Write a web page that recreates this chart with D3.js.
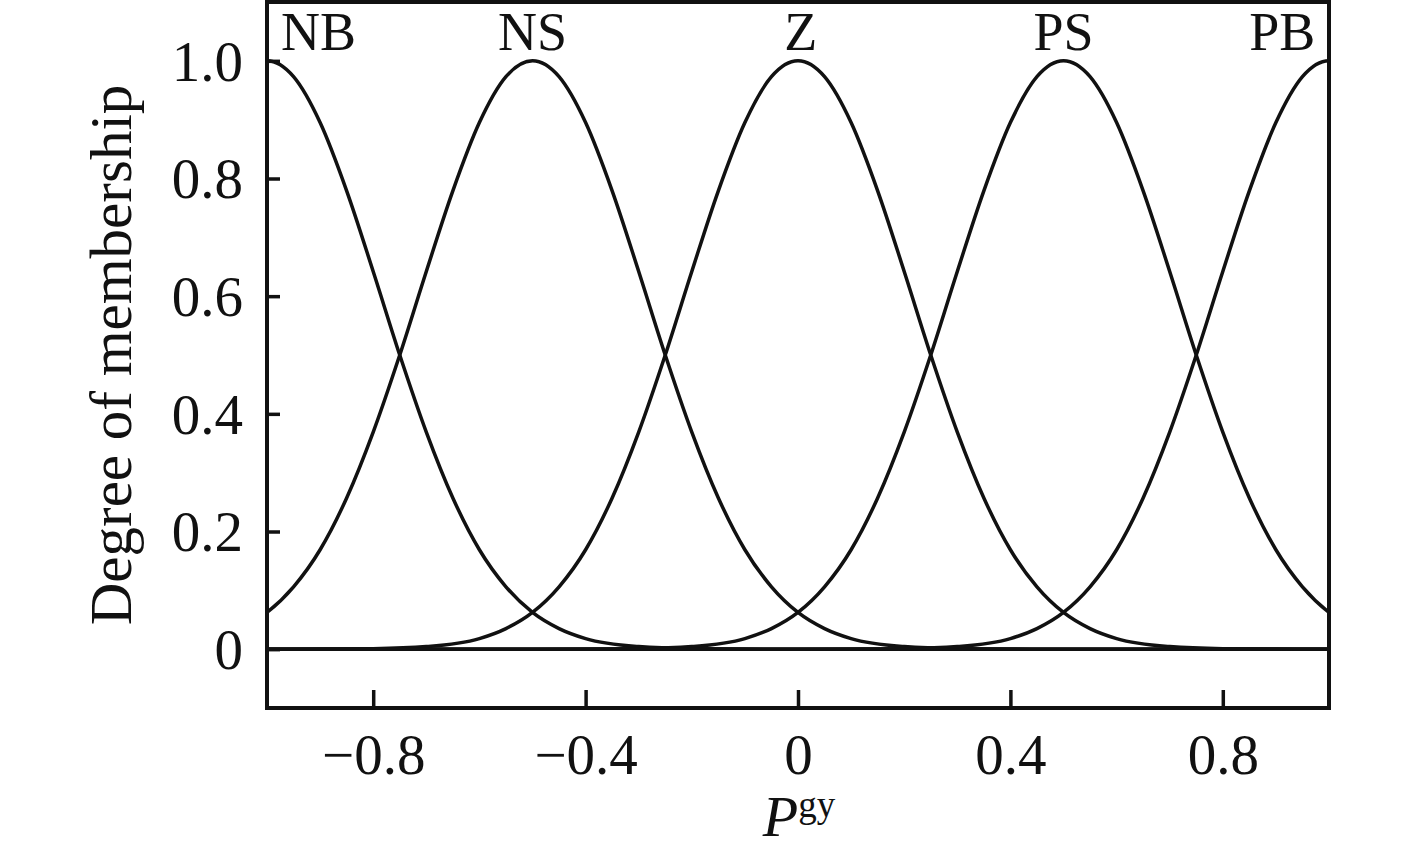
<!DOCTYPE html>
<html>
<head>
<meta charset="utf-8">
<script src="https://cdn.jsdelivr.net/npm/d3@7"></script>
<style>
  html, body { margin: 0; padding: 0; background: #fff; }
  svg { display: block; }
  text { font-family: "Liberation Serif", "Times New Roman", serif; fill: #111; }
</style>
</head>
<body>
<svg id="chart" width="1417" height="855"></svg>
<script>
// ---- data ----
const categories = ["NB", "NS", "Z", "PS", "PB"];
const centers = [-1, -0.5, 0, 0.5, 1];
const labelX = [-0.903, -0.5, 0.005, 0.5, 0.912];
// membership profile: offset from centre -> degree of membership (symmetric)
const profileOffset = [0, 0.05, 0.1, 0.15, 0.2, 0.25, 0.3, 0.35, 0.4, 0.45, 0.5, 0.55, 0.6, 0.7, 0.8, 0.9, 1.0, 1.25, 1.5, 2.0];
const profileValue  = [1, 0.973, 0.895, 0.779, 0.642, 0.5, 0.369, 0.257, 0.169, 0.106, 0.0625, 0.035, 0.018, 0.0044, 0.0008, 0.0001, 0, 0, 0, 0];
const xTicks = [-0.8, -0.4, 0, 0.4, 0.8];
const yTicks = [0, 0.2, 0.4, 0.6, 0.8, 1.0];
const xTickLabels = ["\u22120.8", "\u22120.4", "0", "0.4", "0.8"];
const yTickLabels = ["0", "0.2", "0.4", "0.6", "0.8", "1.0"];

// ---- layout ----
const L = 267, R = 1329, T = 2, B = 708;
const svg = d3.select("#chart");
const x = d3.scaleLinear().domain([-1, 1]).range([L, R]);
const y = d3.scaleLinear().domain([-0.1, 1.1]).range([B, T]);

svg.append("defs").append("clipPath").attr("id", "clip")
  .append("rect").attr("x", L).attr("y", T).attr("width", R - L).attr("height", B - T);

function curvePoints(c) {
  const pts = [];
  for (let i = profileOffset.length - 1; i > 0; i--) pts.push([c - profileOffset[i], profileValue[i]]);
  for (let i = 0; i < profileOffset.length; i++) pts.push([c + profileOffset[i], profileValue[i]]);
  return pts;
}

const line = d3.line().x(d => x(d[0])).y(d => y(d[1])).curve(d3.curveMonotoneX);

const g = svg.append("g").attr("clip-path", "url(#clip)");

g.append("line").attr("x1", L).attr("x2", R).attr("y1", y(0)).attr("y2", y(0))
  .attr("stroke", "#111").attr("stroke-width", 3.5);

g.selectAll("path.mf").data(centers).join("path")
  .attr("class", "mf")
  .attr("d", c => line(curvePoints(c)))
  .attr("fill", "none").attr("stroke", "#111").attr("stroke-width", 3.5);

const xAxis = d3.axisBottom(x).tickValues(xTicks).tickSize(-18).tickFormat((d, i) => xTickLabels[i]);
const yAxis = d3.axisLeft(y).tickValues(yTicks).tickSize(-13).tickFormat((d, i) => yTickLabels[i]);

const gx = svg.append("g").attr("transform", `translate(0,${B})`).call(xAxis);
gx.select(".domain").remove();
gx.selectAll(".tick line").attr("stroke", "#111").attr("stroke-width", 3.5);
gx.selectAll(".tick text").attr("font-size", 57).attr("dy", null).attr("y", 66)
  .attr("font-family", "Liberation Serif").attr("fill", "#111");

const gy = svg.append("g").attr("transform", `translate(${L},0)`).call(yAxis);
gy.select(".domain").remove();
gy.selectAll(".tick line").attr("stroke", "#111").attr("stroke-width", 3.5);
gy.selectAll(".tick text").attr("font-size", 57).attr("x", -24).attr("dy", "0.34em")
  .attr("font-family", "Liberation Serif").attr("fill", "#111");

svg.append("rect").attr("x", L).attr("y", T).attr("width", R - L).attr("height", B - T)
  .attr("fill", "none").attr("stroke", "#111").attr("stroke-width", 4);

svg.selectAll("text.cat").data(categories).join("text")
  .attr("class", "cat")
  .attr("x", (d, i) => x(labelX[i]))
  .attr("y", 50)
  .attr("text-anchor", "middle")
  .attr("font-size", 54)
  .text(d => d);

svg.append("text")
  .attr("transform", `translate(131,355) rotate(-90)`)
  .attr("text-anchor", "middle")
  .attr("font-size", 59)
  .text("Degree of membership");

const xt = svg.append("text").attr("x", 799).attr("y", 836).attr("text-anchor", "middle");
xt.append("tspan").attr("font-style", "italic").attr("font-size", 58).text("P");
xt.append("tspan").attr("font-size", 37).attr("dy", -19).text("gy");
</script>
</body>
</html>
